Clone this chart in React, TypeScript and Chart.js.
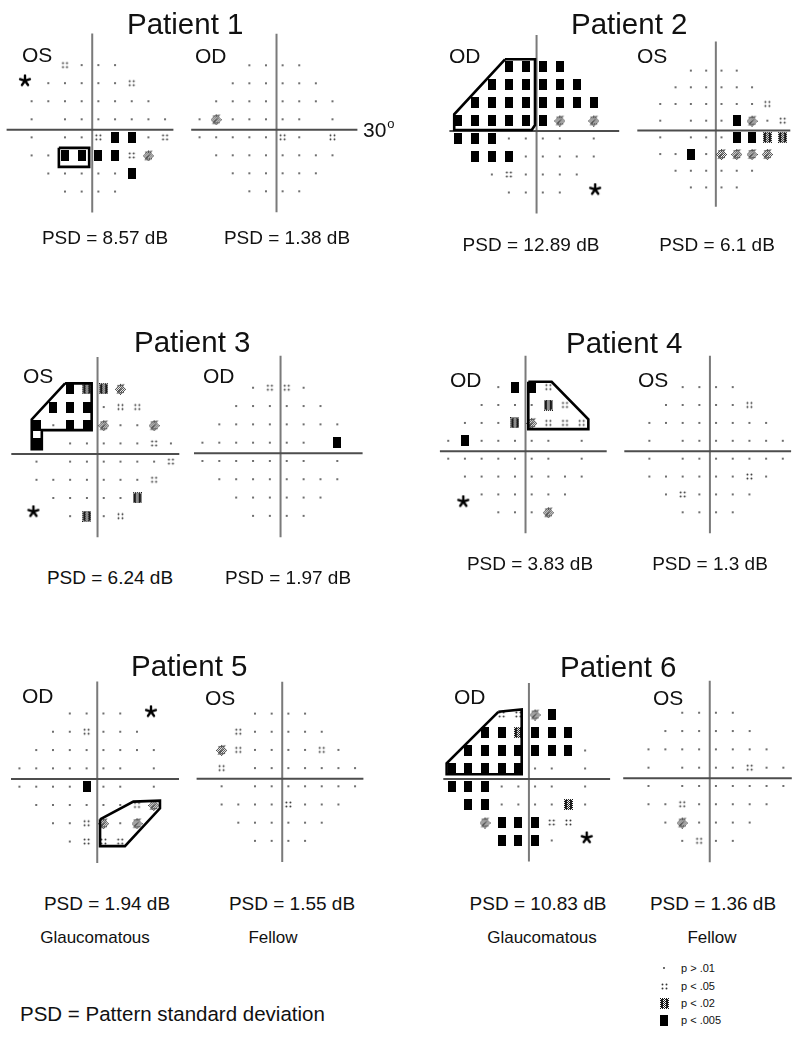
import React, { useEffect, useRef } from 'react';
import { Chart, registerables } from 'chart.js';

Chart.register(...registerables);

// ---------------- DATA ----------------
// 24-2 grid rows (degrees, top to bottom) and the column positions of each row.
const ROW_Y = [21, 15, 9, 3, -3, -9, -15, -21];
const COLS_OS = [
  [-9, -3, 3, 9],
  [-15, -9, -3, 3, 9, 15],
  [-21, -15, -9, -3, 3, 9, 15, 21],
  [-21, -15, -9, -3, 3, 9, 15, 21, 27],
  [-21, -15, -9, -3, 3, 9, 15, 21, 27],
  [-21, -15, -9, -3, 3, 9, 15, 21],
  [-15, -9, -3, 3, 9, 15],
  [-9, -3, 3, 9],
];
const COLS_OD = [
  [-9, -3, 3, 9],
  [-15, -9, -3, 3, 9, 15],
  [-21, -15, -9, -3, 3, 9, 15, 21],
  [-27, -21, -15, -9, -3, 3, 9, 15, 21],
  [-27, -21, -15, -9, -3, 3, 9, 15, 21],
  [-21, -15, -9, -3, 3, 9, 15, 21],
  [-15, -9, -3, 3, 9, 15],
  [-9, -3, 3, 9],
];
// symbol codes: '.' normal, ':' p<.05, 'z' light hatch, 'x' dark hatch (p<.02), '#' p<.005, ' ' blind spot
const P1_OS = [':...', '.....:', '........', '. .......', '. ..:##.:', '..####:z', '.....#', '....'];
const P1_OD = ['....', '......', '........', '.z..... .', '.....:. :', '........', '......', '....'];
const P2_OD = ['####', '######', '########', '######z z', '###.... .', '###.....', '.:....', '....'];
const P2_OS = ['....', '......', '.......:', '. ...#z.:', '. ...##xx', '..#.zzzz', '......', '....'];
const P3_OS = ['#xxz', '###.::', '#.##z..z', '# .....:.', '. ......:', '.......:', '.....x', '.x.:'];
const P3_OD = ['.::.', '......', '........', '....... #', '....... .', '........', '......', '....'];
const P4_OD = ['.##:', '....x:', '...xz:::', '.#..... .', '....... .', '........', '......', '...z'];
const P4_OS = ['....', '.....:', '........', '. .......', '. .......', '......:.', '.:....', '....'];
const P5_OD = ['....', '..:...', '........', '....... .', '....#.. .', '......:z', '..:z.z', '.:::'];
const P5_OS = ['....', ':.....', 'z:....:.', ': .......', '. .......', '....:...', '......', '....'];
const P6_OD = ['::z#', '##x###', '#######.', '#####.. .', '###.... .', '##....x.', 'z###::', '###.'];
const P6_OS = ['....', '......', '........', '. ....:..', '. .......', '..:.....', '.z....', '.:..'];

// cluster outlines (degrees)
const P1_OS_OUTLINE = [[-11.2, -6.5], [-0.3, -6.5], [-0.3, -12.8], [-11.2, -12.8]];
const P2_OD_OUTLINE = [[-10.35, 23.4], [0.25, 23.4], [0.25, 1.5], [-0.9, -0.17], [-28.3, -0.17], [-28.3, 5.06]];
const P3_OS_OUTLINE = [[-10.8, 22.8], [-1.3, 22.8], [-1.3, 7.4], [-19.1, 7.4], [-19.1, 1.05], [-22.7, 1.05], [-22.7, 10.9]];
const P4_OD_OUTLINE = [[1.8, 22.8], [10.2, 22.8], [23.4, 10.2], [23.4, 6.9], [1.8, 6.9]];
const P5_OD_OUTLINE = [[1.8, -13.7], [13.7, -7.9], [23.2, -7.6], [23.2, -10.1], [10.7, -22.5], [1.8, -22.5]];
const P6_OD_OUTLINE = [[-10.2, 21.9], [-1.8, 22.7], [-1.8, 1.07], [-28.8, 1.07], [-28.8, 4.7]];

// asterisk positions (degrees)
const P1_OS_STAR = [-23.4, 15.8];
const P2_OD_STAR = [21.5, -20];
const P3_OS_STAR = [-22.1, -19.5];
const P4_OD_STAR = [-21.6, -17.4];
const P5_OD_STAR = [20, 21.6];
const P6_OD_STAR = [21.6, -20.1];

const PSD_VALUES = ['8.57', '1.38', '12.89', '6.1', '6.24', '1.97', '3.83', '1.3', '1.94', '1.55', '10.83', '1.36'];
const LEGEND_LABELS = ['p > .01', 'p < .05', 'p < .02', 'p < .005'];
const LEGEND_KINDS = ['.', ':', 'x', '#'];

// ---------------- STYLE / LAYOUT ----------------
const FONT = '"Liberation Sans", Arial, Helvetica, sans-serif';
const HALF = 36; // half range of each mini chart in degrees
const AXIS_X = 0.8;
const AXIS_Y = -0.5;

type Spec = {
  eye: 'OS' | 'OD';
  grid: string[];
  outline: number[][] | null;
  star: number[] | null;
  cx: number; cy: number; kx: number; ky: number;
  label: [number, number];
  psd: [number, number];
};

const PLOTS: Spec[] = [
  { eye: 'OS', grid: P1_OS, outline: P1_OS_OUTLINE, star: P1_OS_STAR, cx: 90, cy: 128.3, kx: 2.78, ky: 3.01, label: [22, 61.7], psd: [105, 237] },
  { eye: 'OD', grid: P1_OD, outline: null, star: null, cx: 274.3, cy: 128.3, kx: 2.77, ky: 3.0, label: [195, 63], psd: [287, 237] },
  { eye: 'OD', grid: P2_OD, outline: P2_OD_OUTLINE, star: P2_OD_STAR, cx: 534.3, cy: 129.5, kx: 2.83, ky: 3.0, label: [449, 63], psd: [531, 244] },
  { eye: 'OS', grid: P2_OS, outline: null, star: null, cx: 713.8, cy: 129, kx: 2.55, ky: 2.78, label: [637, 63], psd: [717, 244] },
  { eye: 'OS', grid: P3_OS, outline: P3_OS_OUTLINE, star: P3_OS_STAR, cx: 95.3, cy: 452.5, kx: 2.8, ky: 3.03, label: [23, 383], psd: [110, 577] },
  { eye: 'OD', grid: P3_OD, outline: null, star: null, cx: 278.3, cy: 451.8, kx: 2.81, ky: 3.05, label: [203, 383], psd: [288, 577] },
  { eye: 'OD', grid: P4_OD, outline: P4_OD_OUTLINE, star: P4_OD_STAR, cx: 523.3, cy: 449.7, kx: 2.78, ky: 2.98, label: [450, 387], psd: [530, 563] },
  { eye: 'OS', grid: P4_OS, outline: null, star: null, cx: 707.7, cy: 449.7, kx: 2.78, ky: 2.98, label: [638, 387], psd: [710, 563] },
  { eye: 'OD', grid: P5_OD, outline: P5_OD_OUTLINE, star: P5_OD_STAR, cx: 95, cy: 777.5, kx: 2.8, ky: 3.05, label: [22, 703], psd: [107, 903] },
  { eye: 'OS', grid: P5_OS, outline: null, star: null, cx: 280, cy: 777.2, kx: 2.78, ky: 3.03, label: [205, 705], psd: [292, 903] },
  { eye: 'OD', grid: P6_OD, outline: P6_OD_OUTLINE, star: P6_OD_STAR, cx: 526.7, cy: 777.5, kx: 2.78, ky: 3.0, label: [454, 704], psd: [538, 903] },
  { eye: 'OS', grid: P6_OS, outline: null, star: null, cx: 707.5, cy: 776.8, kx: 2.81, ky: 3.05, label: [653, 705], psd: [713, 903] },
];

const TITLES: [string, number, number][] = [
  ['Patient 1', 127, 33.5],
  ['Patient 2', 571, 33.5],
  ['Patient 3', 134, 352],
  ['Patient 4', 566, 353],
  ['Patient 5', 131, 675.5],
  ['Patient 6', 560, 677],
];

const GROUP_LABELS: [string, number, number][] = [
  ['Glaucomatous', 95, 937],
  ['Fellow', 273, 937],
  ['Glaucomatous', 542, 937],
  ['Fellow', 712, 937],
];

// ---------------- SYMBOLS ----------------
const symCache: Record<string, HTMLCanvasElement> = {};
function makeSymbol(kind: string): HTMLCanvasElement {
  if (symCache[kind]) return symCache[kind];
  const c = document.createElement('canvas');
  const set = (w: number, h: number) => { c.width = w; c.height = h; return c.getContext('2d')!; };
  if (kind === '.') {
    const g = set(4, 4);
    g.fillStyle = '#4a4a4a';
    g.beginPath(); g.arc(2, 2, 1.05, 0, Math.PI * 2); g.fill();
  } else if (kind === ':') {
    const g = set(9, 9);
    g.fillStyle = '#333';
    for (const [x, y] of [[2.5, 2.5], [6.5, 2.5], [2.5, 6.5], [6.5, 6.5]]) {
      g.beginPath(); g.arc(x, y, 0.95, 0, Math.PI * 2); g.fill();
    }
  } else if (kind === 'z') {
    const g = set(11, 12);
    g.fillStyle = '#444';
    for (let y = 0; y < 12; y++) for (let x = 0; x < 11; x++) {
      const d = Math.abs(x + 0.5 - 5.5) / 5.5 + Math.abs(y + 0.5 - 6) / 6;
      if ((x + y) % 2 === 0 && d <= 1.0) g.fillRect(x, y, 1, 1);
    }
    g.strokeStyle = '#555'; g.lineWidth = 1.1;
    g.beginPath();
    g.moveTo(2, 3); g.lineTo(8.5, 2); g.lineTo(2.5, 10); g.lineTo(9, 9.5);
    g.stroke();
  } else if (kind === 'x') {
    const g = set(9, 11);
    g.fillStyle = '#1a1a1a';
    for (let y = 0; y < 11; y++) for (let x = 0; x < 9; x++) {
      if ((x + y) % 2 === 0) g.fillRect(x, y, 1, 1);
    }
    g.fillRect(1, 1, 2, 9);
    g.fillRect(6, 1, 2, 9);
  } else if (kind === '#') {
    const g = set(8, 11);
    g.fillStyle = '#000';
    g.fillRect(0, 0, 8, 11);
  } else if (kind === '*') {
    const g = set(14, 14);
    g.strokeStyle = '#000'; g.lineWidth = 2.4; g.lineCap = 'round';
    for (let i = 0; i < 5; i++) {
      const a = -Math.PI / 2 + (i * 2 * Math.PI) / 5;
      g.beginPath(); g.moveTo(7, 7); g.lineTo(7 + Math.cos(a) * 5.2, 7 + Math.sin(a) * 5.2); g.stroke();
    }
  }
  symCache[kind] = c;
  return c;
}

// ---------------- COMPONENTS ----------------
function VFPlot({ spec }: { spec: Spec }) {
  const ref = useRef<HTMLCanvasElement>(null);
  const left = Math.round(spec.cx - HALF * spec.kx);
  const top = Math.round(spec.cy - HALF * spec.ky);
  const W = Math.round(2 * HALF * spec.kx);
  const H = Math.round(2 * HALF * spec.ky);

  useEffect(() => {
    if (!ref.current) return;
    const xmin = (left - spec.cx) / spec.kx;
    const xmax = xmin + W / spec.kx;
    const ymax = (spec.cy - top) / spec.ky;
    const ymin = ymax - H / spec.ky;

    const cols = spec.eye === 'OS' ? COLS_OS : COLS_OD;
    const pts: Record<string, { x: number; y: number }[]> = { '.': [], ':': [], z: [], x: [], '#': [] };
    spec.grid.forEach((row, r) => {
      cols[r].forEach((cx, i) => {
        const ch = row[i];
        if (ch && pts[ch]) pts[ch].push({ x: cx, y: ROW_Y[r] });
      });
    });

    const datasets: any[] = [];
    if (spec.outline) {
      const o = spec.outline.map(([x, y]) => ({ x, y }));
      o.push({ ...o[0] });
      datasets.push({ data: o, showLine: true, borderColor: '#000', borderWidth: 2.6, pointRadius: 0, tension: 0, fill: false, borderJoinStyle: 'miter' });
    }
    if (spec.star) {
      datasets.push({ data: [{ x: spec.star[0], y: spec.star[1] }], pointStyle: makeSymbol('*'), pointRadius: 5 });
    }
    for (const k of ['#', 'x', 'z', ':', '.']) {
      datasets.push({ data: pts[k], pointStyle: makeSymbol(k), pointRadius: 3 });
    }
    datasets.push({ data: [{ x: -30, y: AXIS_Y }, { x: 30, y: AXIS_Y }], showLine: true, borderColor: '#4d4d4d', borderWidth: 2, pointRadius: 0, tension: 0 });
    datasets.push({ data: [{ x: AXIS_X, y: 31.5 }, { x: AXIS_X, y: -28 }], showLine: true, borderColor: '#7a7a7a', borderWidth: 2, pointRadius: 0, tension: 0 });

    const chart = new Chart(ref.current, {
      type: 'scatter',
      data: { datasets },
      options: {
        animation: false,
        responsive: false,
        events: [],
        layout: { padding: 0, autoPadding: false },
        plugins: { legend: { display: false }, tooltip: { enabled: false } },
        scales: {
          x: { type: 'linear', display: false, min: xmin, max: xmax },
          y: { type: 'linear', display: false, min: ymin, max: ymax },
        },
      } as any,
    });
    return () => chart.destroy();
  }, []);

  return <canvas ref={ref} width={W} height={H} style={{ position: 'absolute', left, top, width: W, height: H }} />;
}

function LegendSym({ kind, x, y }: { kind: string; x: number; y: number }) {
  const ref = useRef<HTMLCanvasElement>(null);
  useEffect(() => {
    const c = ref.current;
    if (!c) return;
    const g = c.getContext('2d')!;
    const s = makeSymbol(kind);
    g.clearRect(0, 0, 14, 14);
    g.drawImage(s, Math.round(7 - s.width / 2), Math.round(7 - s.height / 2));
  }, []);
  return <canvas ref={ref} width={14} height={14} style={{ position: 'absolute', left: x - 7, top: y - 7, width: 14, height: 14 }} />;
}

function TextAt({ text, x, baseline, size, align = 'left' }: { text: string; x: number; baseline: number; size: number; align?: 'left' | 'center' }) {
  const top = baseline - 0.8465 * size;
  const style: React.CSSProperties = {
    position: 'absolute', top, fontFamily: FONT, fontSize: size, lineHeight: `${size}px`, color: '#111', whiteSpace: 'nowrap',
  };
  if (align === 'center') {
    style.left = x - 200; style.width = 400; style.textAlign = 'center';
  } else {
    style.left = x;
  }
  return <div style={style}>{text}</div>;
}

export default function App() {
  const psdSize = 19;
  const groupSize = 17;
  const noteSize = 20.5;
  return (
    <div style={{ position: 'absolute', left: 0, top: 0, width: 800, height: 1043, background: '#fff', overflow: 'hidden' }}>
      {PLOTS.map((p, i) => <VFPlot key={i} spec={p} />)}
      {TITLES.map(([t, x, b], i) => <TextAt key={'t' + i} text={t} x={x} baseline={b} size={29.5} />)}
      {PLOTS.map((p, i) => <TextAt key={'e' + i} text={p.eye} x={p.label[0]} baseline={p.label[1]} size={21} />)}
      {PLOTS.map((p, i) => (
        <TextAt key={'p' + i} text={`PSD = ${PSD_VALUES[i]} dB`} x={p.psd[0]} baseline={p.psd[1] + 0.358 * psdSize} size={psdSize} align="center" />
      ))}
      {GROUP_LABELS.map(([t, x, y], i) => (
        <TextAt key={'g' + i} text={t} x={x} baseline={y + 0.358 * groupSize} size={groupSize} align="center" />
      ))}
      <div style={{ position: 'absolute', left: 363, top: 136.7 - 0.8465 * 21, fontFamily: FONT, fontSize: 21, lineHeight: '21px', color: '#111', whiteSpace: 'nowrap' }}>
        30<span style={{ fontSize: 13, position: 'relative', top: -9, marginLeft: 1 }}>o</span>
      </div>
      <TextAt text="PSD = Pattern standard deviation" x={20} baseline={1014 + 0.358 * noteSize} size={noteSize} />
      {LEGEND_KINDS.map((k, i) => <LegendSym key={'ls' + i} kind={k} x={664} y={[968, 986, 1003, 1020][i]} />)}
      {LEGEND_LABELS.map((t, i) => <TextAt key={'lt' + i} text={t} x={681} baseline={[968, 986, 1003, 1020][i] + 0.358 * 11} size={11} />)}
    </div>
  );
}
